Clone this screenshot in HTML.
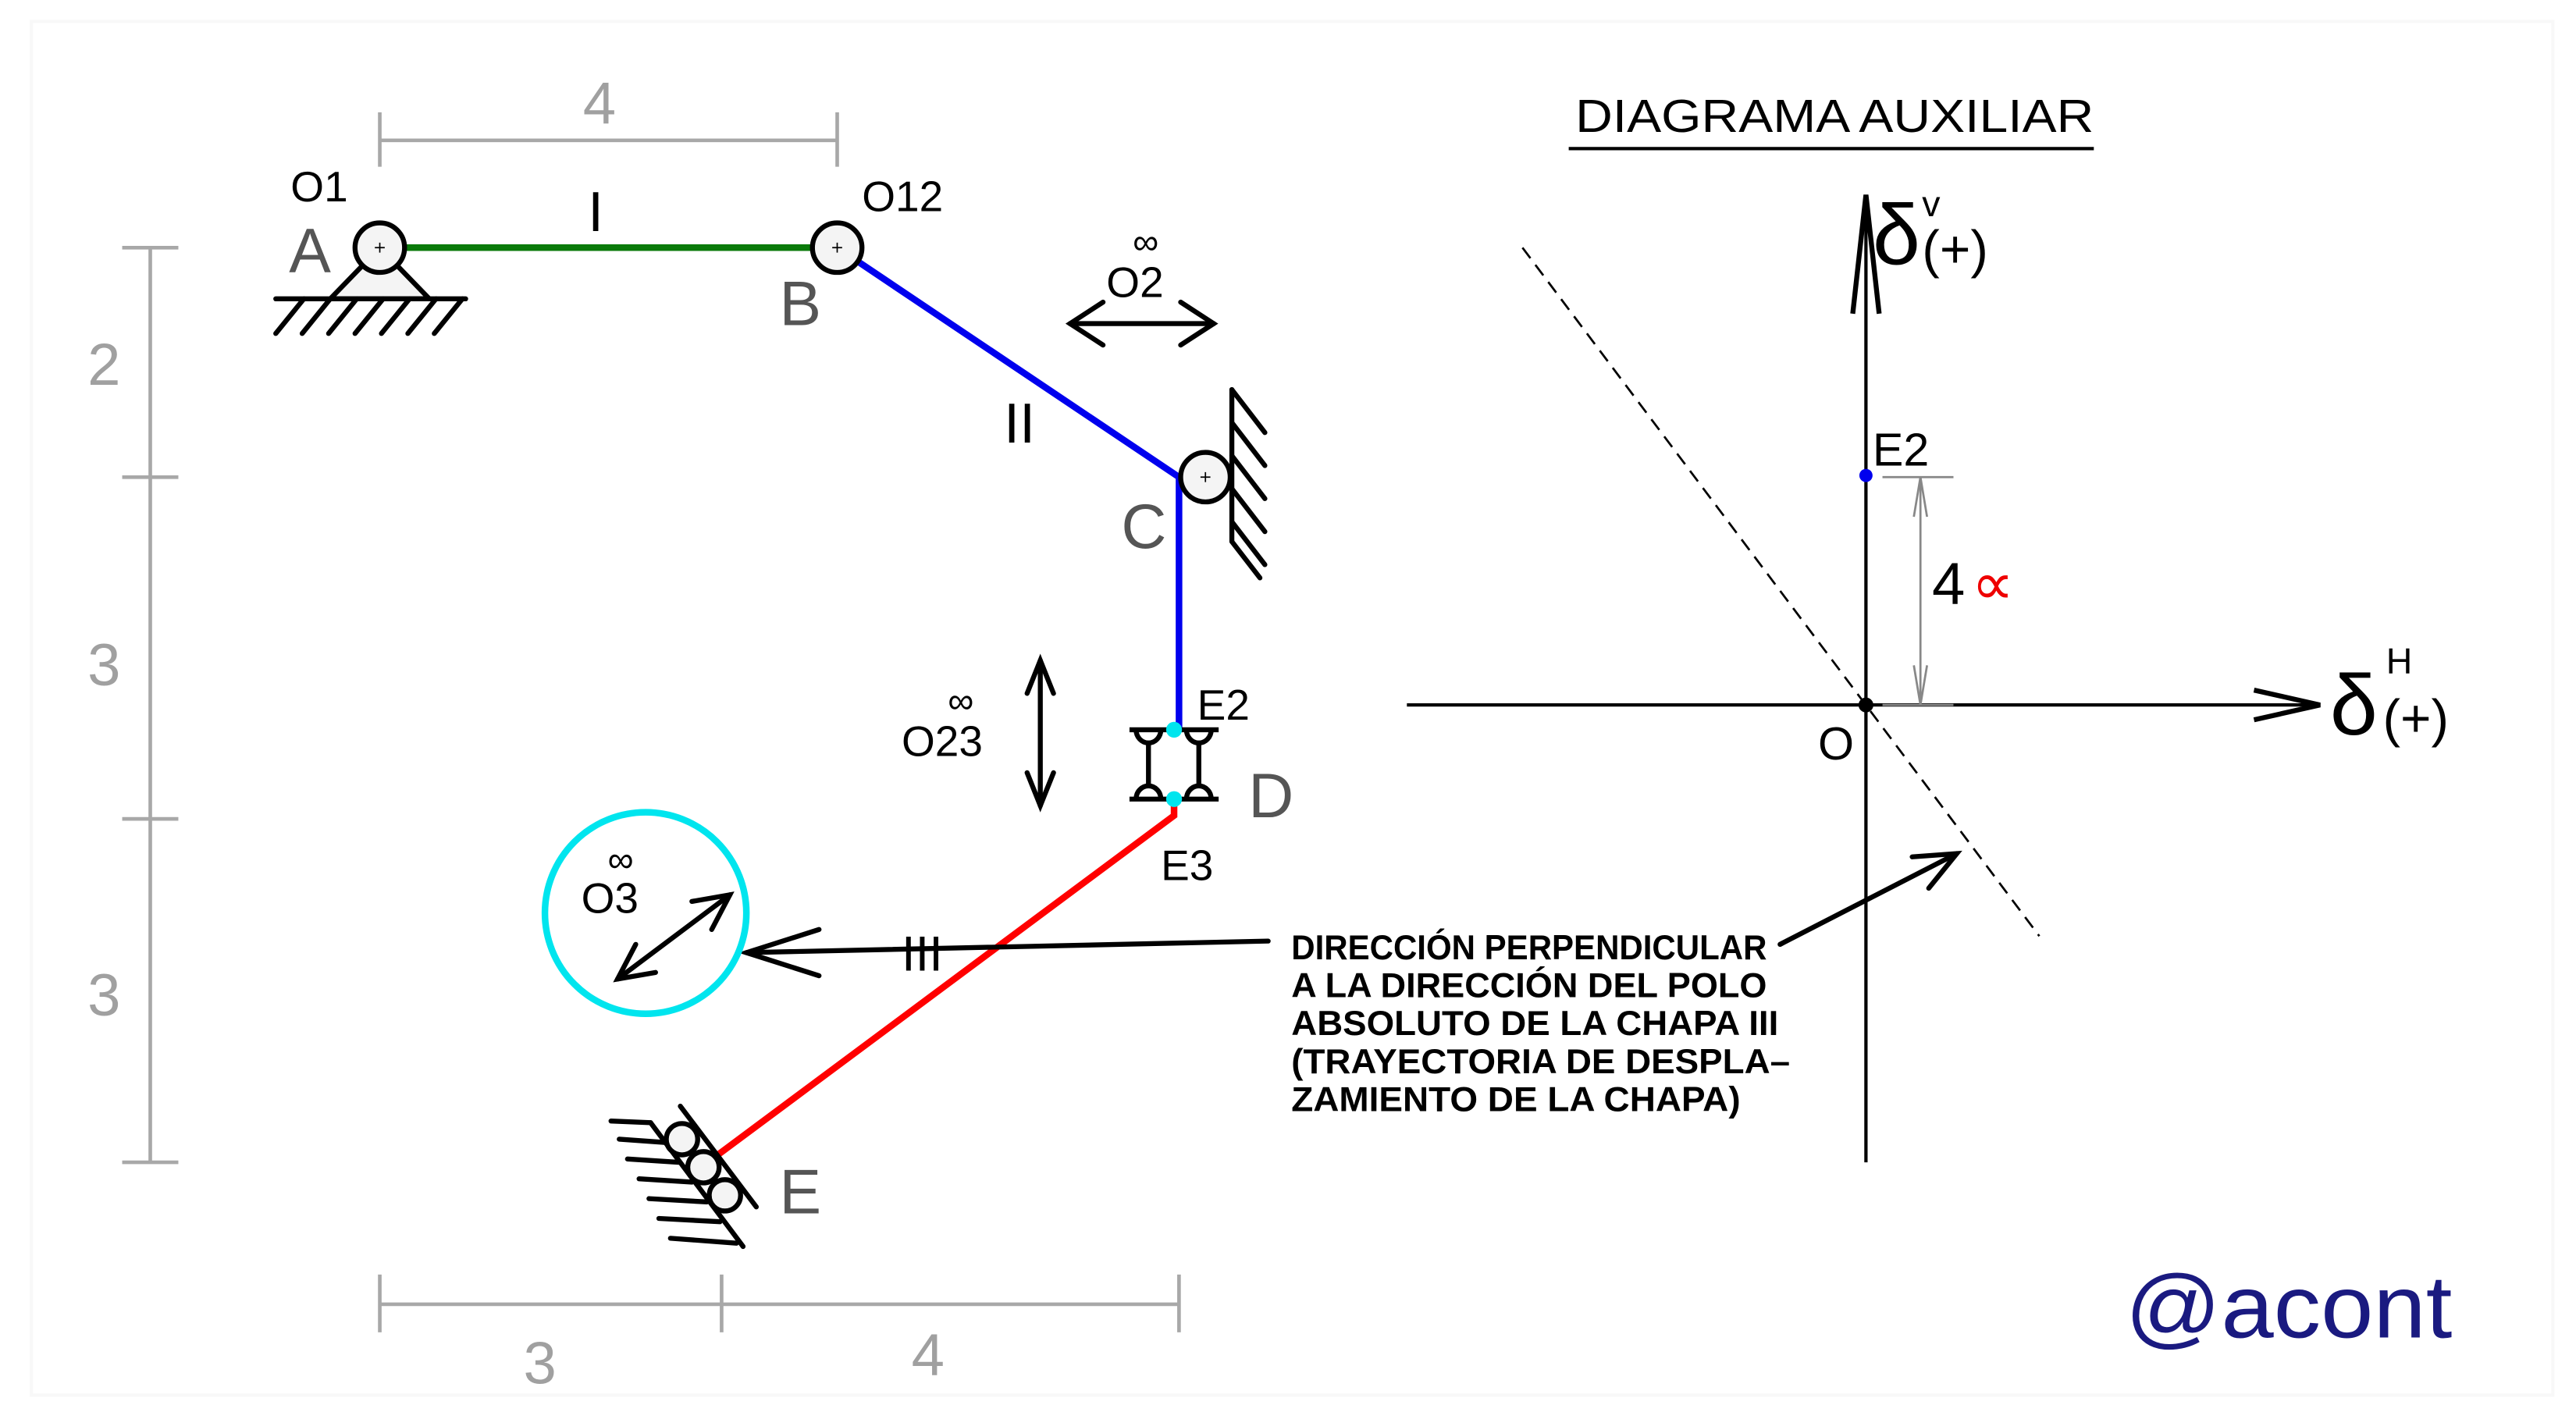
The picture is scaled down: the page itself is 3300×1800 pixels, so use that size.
<!DOCTYPE html>
<html><head><meta charset="utf-8"><style>html,body{margin:0;padding:0;background:#fff}svg{display:block}</style></head>
<body>
<svg xmlns="http://www.w3.org/2000/svg" width="3300" height="1800" viewBox="0 0 1560 851" preserveAspectRatio="none" font-family="Liberation Sans, sans-serif">
<rect width="1560" height="851" fill="#fff"/>
<rect x="19" y="13" width="1527" height="832" fill="none" stroke="#f8f8f8" stroke-width="2"/>
<g stroke="#a8a8a8" stroke-width="2.2" fill="none">
<line x1="230" y1="85" x2="507" y2="85"/><line x1="230" y1="68" x2="230" y2="101"/><line x1="507" y1="68" x2="507" y2="101"/>
<line x1="91" y1="150" x2="91" y2="704"/>
<line x1="74" y1="150" x2="108" y2="150"/><line x1="74" y1="289" x2="108" y2="289"/><line x1="74" y1="496" x2="108" y2="496"/><line x1="74" y1="704" x2="108" y2="704"/>
<line x1="230" y1="790" x2="714" y2="790"/><line x1="230" y1="772" x2="230" y2="807"/><line x1="437" y1="772" x2="437" y2="807"/><line x1="714" y1="772" x2="714" y2="807"/>
</g>
<g fill="#a0a0a0" font-size="36" text-anchor="middle">
<text x="363" y="75">4</text><text x="63" y="233">2</text><text x="63" y="415">3</text><text x="63" y="615">3</text>
<text x="327" y="838">3</text><text x="562" y="833">4</text>
</g>
<line x1="230" y1="150" x2="507" y2="150" stroke="#0a7a0a" stroke-width="4"/>
<polyline points="507,150 714,289 714,442" fill="none" stroke="#0000ee" stroke-width="4"/>
<polyline points="711,484 711,494 434,700" fill="none" stroke="#ff0000" stroke-width="4"/>
<g stroke="#000" stroke-width="3" fill="none" stroke-linecap="round">
<polygon points="230,150 200,181 260,181" fill="#f4f4f4"/>
<line x1="167" y1="181" x2="282" y2="181"/>
<line x1="184" y1="181" x2="167" y2="202"/><line x1="200" y1="181" x2="183" y2="202"/><line x1="216" y1="181" x2="199" y2="202"/><line x1="232" y1="181" x2="215" y2="202"/><line x1="248" y1="181" x2="231" y2="202"/><line x1="264" y1="181" x2="247" y2="202"/><line x1="280" y1="181" x2="263" y2="202"/>
<line x1="746" y1="236" x2="746" y2="328"/>
<line x1="746" y1="236" x2="766" y2="262"/><line x1="746" y1="256" x2="766" y2="282"/><line x1="746" y1="276" x2="766" y2="302"/><line x1="746" y1="296" x2="766" y2="322"/><line x1="746" y1="316" x2="766" y2="342"/><line x1="746" y1="328" x2="763" y2="350"/>
</g>
<g stroke="#000" stroke-width="3" fill="#f4f4f4">
<circle cx="230" cy="150" r="15"/><circle cx="507" cy="150" r="15"/><circle cx="730" cy="289" r="15"/>
</g>
<g stroke="#000" stroke-width="0.8"><path d="M227 150h6M230 147v6M504 150h6M507 147v6M727 289h6M730 286v6"/></g>
<g stroke="#000" stroke-width="3" fill="none">
<line x1="684" y1="442" x2="738" y2="442"/><line x1="684" y1="484" x2="738" y2="484"/>
<line x1="695.5" y1="450" x2="695.5" y2="476"/><line x1="726" y1="450" x2="726" y2="476"/>
<path d="M688 442a7.5 8 0 0 0 15 0M718.5 442a7.5 8 0 0 0 15 0M688 484a7.5 8 0 0 1 15 0M718.5 484a7.5 8 0 0 1 15 0"/>
</g>
<circle cx="711" cy="442" r="4.8" fill="#00e5ee"/><circle cx="711" cy="484" r="4.8" fill="#00e5ee"/>
<g stroke="#000" stroke-width="3" fill="none" stroke-linecap="round">
<line x1="412" y1="670" x2="458" y2="731"/>
<line x1="394" y1="680" x2="450" y2="755"/>
<line x1="370" y1="679" x2="394" y2="680"/><line x1="375" y1="690" x2="403" y2="692"/><line x1="380" y1="702" x2="411" y2="704"/><line x1="387" y1="714" x2="419" y2="716"/><line x1="393" y1="726" x2="428" y2="728"/><line x1="399" y1="738" x2="436" y2="740"/><line x1="406" y1="750" x2="446" y2="753"/>
</g>
<g stroke="#000" stroke-width="3" fill="#f4f4f4"><circle cx="413" cy="690" r="9.5"/><circle cx="426" cy="707" r="9.5"/><circle cx="439" cy="724" r="9.5"/></g>
<g fill="#000" font-size="26">
<text x="176" y="122">O1</text><text x="522" y="128">O12</text>
<text x="356" y="140" font-size="34">I</text><text x="608" y="268" font-size="34">II</text>
<text x="670" y="180">O2</text><text x="686" y="154" font-size="22">∞</text>
<text x="546" y="458">O23</text><text x="574" y="432" font-size="22">∞</text>
<text x="725" y="436">E2</text><text x="703" y="533">E3</text>
<text x="352" y="553">O3</text><text x="368" y="528" font-size="22">∞</text>
<text x="546" y="588" font-size="30">III</text>
</g>
<g fill="#555" font-size="38">
<text x="175" y="165">A</text><text x="472" y="197">B</text><text x="679" y="332">C</text><text x="756" y="495">D</text><text x="472" y="735">E</text>
</g>
<g stroke="#000" stroke-width="3" fill="none" stroke-linecap="round">
<line x1="648" y1="196" x2="735" y2="196"/><polyline points="668,183 648,196 668,209"/><polyline points="715,183 735,196 715,209"/>
<line x1="630" y1="400" x2="630" y2="488"/><polyline points="622,420 630,400 638,420"/><polyline points="622,468 630,488 638,468"/>
<line x1="374" y1="593" x2="442" y2="542"/><polyline points="419,546 442,542 431,563"/><polyline points="385,572 374,593 397,589"/>
<line x1="768" y1="570" x2="452" y2="577"/><polyline points="496,563 452,577 496,591"/>
<line x1="1078" y1="572" x2="1185" y2="517"/><polyline points="1158,519 1185,517 1168,538"/>
</g>
<circle cx="391" cy="553" r="61" fill="none" stroke="#00e5ee" stroke-width="4"/>
<g fill="#000" font-size="21" font-weight="bold">
<text x="782" y="581" textLength="288" lengthAdjust="spacingAndGlyphs">DIRECCIÓN PERPENDICULAR</text>
<text x="782" y="604" textLength="288" lengthAdjust="spacingAndGlyphs">A LA DIRECCIÓN DEL POLO</text>
<text x="782" y="627" textLength="295" lengthAdjust="spacingAndGlyphs">ABSOLUTO DE LA CHAPA III</text>
<text x="782" y="650" textLength="302" lengthAdjust="spacingAndGlyphs">(TRAYECTORIA DE DESPLA–</text>
<text x="782" y="673" textLength="272" lengthAdjust="spacingAndGlyphs">ZAMIENTO DE LA CHAPA)</text>
</g>
<text x="954" y="80" font-size="28" fill="#000" textLength="314" lengthAdjust="spacingAndGlyphs">DIAGRAMA AUXILIAR</text>
<line x1="950" y1="90" x2="1268" y2="90" stroke="#000" stroke-width="2"/>
<g stroke="#000" stroke-width="2" fill="none">
<line x1="852" y1="427" x2="1405" y2="427"/><polyline points="1365,418 1405,427 1365,436" stroke-width="3"/>
<line x1="1130" y1="704" x2="1130" y2="118"/><polyline points="1122,190 1130,118 1138,190" stroke-width="3"/>
<line x1="922" y1="150" x2="1235" y2="567" stroke-dasharray="8,5" stroke-width="1.3"/>
</g>
<g stroke="#888" stroke-width="1.3" fill="none">
<line x1="1140" y1="289" x2="1183" y2="289"/><line x1="1140" y1="427" x2="1183" y2="427"/>
<line x1="1163" y1="289" x2="1163" y2="427"/><polyline points="1159,313 1163,289 1167,313"/><polyline points="1159,403 1163,427 1167,403"/>
</g>
<circle cx="1130" cy="288" r="4" fill="#0000ee"/><circle cx="1130" cy="427" r="4.5" fill="#000"/>
<g fill="#000">
<text x="1134" y="282" font-size="28">E2</text>
<text x="1101" y="460" font-size="28">O</text>
<text x="1170" y="366" font-size="36">4</text><text x="1194" y="366" font-size="36" fill="#ee0000">∝</text>
<text x="1134" y="160" font-size="52">δ</text><text x="1164" y="131" font-size="22">v</text><text x="1164" y="162" font-size="32">(+)</text>
<text x="1411" y="445" font-size="52">δ</text><text x="1445" y="408" font-size="22">H</text><text x="1443" y="446" font-size="32">(+)</text>
</g>
<text x="1287" y="810" font-size="54" fill="#1a1a80" textLength="198" lengthAdjust="spacingAndGlyphs">@acont</text>
</svg>
</body></html>
